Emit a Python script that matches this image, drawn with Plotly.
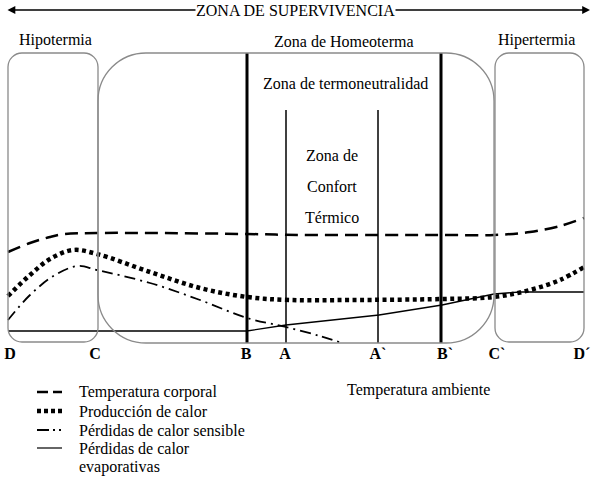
import plotly.graph_objects as go

# Horizontal axis: ambient temperature (arbitrary units), vertical: response level
landmarks = ["D", "C", "B", "A", "A`", "B`", "C`", "D´"]
landmark_x = [10, 95, 246, 285, 378, 445, 497, 582]

temp_x = [8, 30, 50, 65, 97, 150, 247, 300, 379, 442, 494, 530, 560, 584]
temp_y = [91, 100, 106, 109, 110, 110, 109, 108, 108, 108, 108, 111, 117, 125]

prod_x = [8, 30, 50, 73, 97, 150, 200, 247, 290, 350, 442, 494, 530, 560, 584]
prod_y = [47, 68, 84, 93, 89, 71, 55, 46, 43, 43, 44, 46, 53, 63, 76]

sens_x = [8, 30, 55, 78, 97, 150, 200, 247, 286, 320, 342]
sens_y = [23, 48, 68, 77, 73, 60, 43, 25, 16, 7, 0]

evap_x = [8, 247, 286, 330, 379, 442, 475, 494, 520, 584]
evap_y = [12, 12, 18, 23, 28, 38, 45, 49, 51, 51]

series_names = [
    "Temperatura corporal",
    "Producción de calor",
    "Pérdidas de calor sensible",
    "Pérdidas de calor<br>evaporativas",
]

FONT = "Liberation Serif"
TOP = 290

fig = go.Figure()


def rounded_box(x0, x1, y0, y1, r):
    k = 0.5523 * r
    return (
        f"M {x0 + r},{y1} L {x1 - r},{y1} "
        f"C {x1 - r + k},{y1} {x1},{y1 - r + k} {x1},{y1 - r} "
        f"L {x1},{y0 + r} "
        f"C {x1},{y0 + r - k} {x1 - r + k},{y0} {x1 - r},{y0} "
        f"L {x0 + r},{y0} "
        f"C {x0 + r - k},{y0} {x0},{y0 + r - k} {x0},{y0 + r} "
        f"L {x0},{y1 - r} "
        f"C {x0},{y1 - r + k} {x0 + r - k},{y1} {x0 + r},{y1} Z"
    )


box_line = dict(color="#8a8a8a", width=1.3)
shapes = [
    dict(type="path", path=rounded_box(8, 98, 1, TOP, 14), line=box_line),
    dict(type="path", path=rounded_box(98, 494, 0, TOP, 48), line=box_line),
    dict(type="path", path=rounded_box(495, 584, 1, TOP, 14), line=box_line),
]

# zone boundaries (B, A, A`, B`)
bound_x = [247, 286, 378, 441]
bound_top = [TOP, 233, 233, TOP]
bound_w = [3, 1.5, 1.5, 3]
for bx, bt, bw in zip(bound_x, bound_top, bound_w):
    fig.add_trace(go.Scatter(x=[bx, bx], y=[0, bt], mode="lines",
                             line=dict(color="black", width=bw), showlegend=False))

styles = [
    dict(color="black", width=2.5, dash="13px,7px"),
    dict(color="black", width=4.5, dash="4px,3.5px"),
    dict(color="black", width=1.8, dash="11px,5px,2px,5px"),
    dict(color="black", width=1.3),
]
curves = [(temp_x, temp_y, "spline"), (prod_x, prod_y, "spline"),
          (sens_x, sens_y, "spline"), (evap_x, evap_y, "linear")]
for (cx, cy, shape), st, nm in zip(curves, styles, series_names):
    fig.add_trace(go.Scatter(x=cx, y=cy, mode="lines", line=dict(shape=shape, **st),
                             name=nm, showlegend=False))

# landmark labels
fig.add_trace(go.Scatter(x=landmark_x, y=[-12] * len(landmarks), mode="text",
                         text=[f"<b>{t}</b>" for t in landmarks],
                         textfont=dict(family=FONT, size=16, color="black"),
                         showlegend=False, cliponaxis=False))

# manual legend
leg_y = [-49, -68, -87, -105]
leg_styles = [
    dict(color="black", width=2.5, dash="11px,5px"),
    dict(color="black", width=4.5, dash="4px,3px"),
    dict(color="black", width=1.8, dash="12px,4px,2px,4px,2px,20px"),
    dict(color="black", width=1.2),
]
for ly, st in zip(leg_y, leg_styles):
    fig.add_trace(go.Scatter(x=[37, 62], y=[ly, ly], mode="lines", line=st,
                             showlegend=False))

annotations = [
    dict(x=590, y=333, ax=6, ay=333, xref="x", yref="y", axref="x", ayref="y",
         text="", showarrow=True, arrowside="end+start", arrowhead=2,
         arrowsize=1.2, arrowwidth=1.3, arrowcolor="black"),
    dict(x=295, y=333, text="ZONA DE SUPERVIVENCIA", bgcolor="white", borderpad=0),
    dict(x=55, y=303, text="Hipotermia"),
    dict(x=344, y=302, text="Zona de Homeoterma"),
    dict(x=536, y=303, text="Hipertermia"),
    dict(x=345, y=260, text="Zona de termoneutralidad"),
    dict(x=332, y=188, text="Zona de"),
    dict(x=332, y=157, text="Confort"),
    dict(x=332, y=126, text="Térmico"),
    dict(x=418, y=-47, text="Temperatura ambiente"),
]
for ly, nm in zip(leg_y, series_names):
    for j, part in enumerate(nm.split("<br>")):
        annotations.append(dict(x=77, y=ly - 19 * j, text=part, xanchor="left"))
for a in annotations:
    a.setdefault("showarrow", False)
    a.setdefault("xref", "x")
    a.setdefault("yref", "y")
    f = a.setdefault("font", dict(size=16))
    f.setdefault("family", FONT)
    f.setdefault("color", "black")

fig.update_layout(
    width=597, height=477,
    margin=dict(l=0, r=0, t=0, b=0, pad=0, autoexpand=False),
    paper_bgcolor="white", plot_bgcolor="white",
    xaxis=dict(range=[0, 597], visible=False, fixedrange=True),
    yaxis=dict(range=[-134, 343], visible=False, fixedrange=True),
    shapes=shapes, annotations=annotations,
    showlegend=False,
)

# the page body has a default 8px margin; drop it so the figure fills the window
fig.write_html("out.html", post_script="document.body.style.margin='0';",
               config={"displayModeBar": False})
